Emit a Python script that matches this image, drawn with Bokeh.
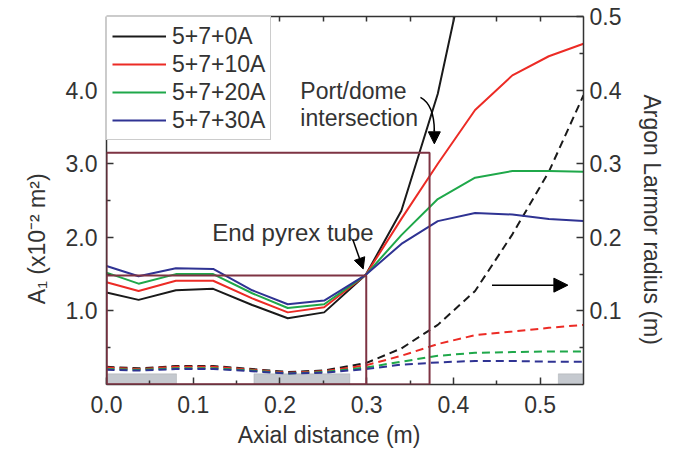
from bokeh.plotting import figure
from bokeh.embed import file_html
from bokeh.resources import INLINE
from bokeh.models import (Range1d, LinearAxis, FixedTicker, BoxAnnotation, Arrow,
                          NormalHead, PrintfTickFormatter)
from bokeh.core.properties import value

# ---------------- data ----------------
x_pos = [0.0, 0.037, 0.08, 0.123, 0.168, 0.209, 0.251, 0.299, 0.34, 0.382, 0.425, 0.468, 0.51, 0.55]

a1_0A = [1.25, 1.15, 1.28, 1.30, 1.08, 0.90, 0.98, 1.49, 2.36, 3.95, 6.3, 8.5, 10.5, 12.5]
a1_10A = [1.39, 1.27, 1.41, 1.41, 1.17, 0.98, 1.05, 1.49, 2.25, 3.00, 3.73, 4.20, 4.46, 4.63]
a1_20A = [1.52, 1.37, 1.50, 1.50, 1.24, 1.04, 1.09, 1.49, 2.03, 2.52, 2.81, 2.90, 2.90, 2.89]
a1_30A = [1.61, 1.47, 1.58, 1.57, 1.28, 1.09, 1.14, 1.49, 1.91, 2.22, 2.33, 2.31, 2.25, 2.22]

rl_0A = [0.024, 0.022, 0.025, 0.025, 0.021, 0.017, 0.019, 0.029, 0.049, 0.081, 0.127, 0.204, 0.289, 0.393]
rl_10A = [0.023, 0.021, 0.024, 0.024, 0.020, 0.016, 0.018, 0.026, 0.039, 0.055, 0.067, 0.072, 0.077, 0.081]
rl_20A = [0.021, 0.020, 0.022, 0.022, 0.019, 0.015, 0.017, 0.023, 0.031, 0.039, 0.043, 0.044, 0.045, 0.045]
rl_30A = [0.020, 0.019, 0.021, 0.021, 0.018, 0.015, 0.016, 0.021, 0.027, 0.030, 0.032, 0.032, 0.031, 0.031]

series_labels = ["5+7+0A", "5+7+10A", "5+7+20A", "5+7+30A"]
series_colors = ["#1a1a1a", "#ec2b25", "#1fa84a", "#2f3393"]

# magnet / coil blocks on the axis (x extents, height in A1 units)
coil_left = [-0.0165, 0.170, 0.521]
coil_right = [0.0807, 0.2806, 0.593]
coil_top = 0.145

x_ticks = [0.0, 0.1, 0.2, 0.3, 0.4, 0.5]
x_minor = [0.05, 0.15, 0.25, 0.35, 0.45]
y_ticks = [1.0, 2.0, 3.0, 4.0]
y_minor = [0.5, 1.5, 2.5, 3.5, 4.5]
r_ticks = [0.1, 0.2, 0.3, 0.4, 0.5]
r_minor = [0.05, 0.15, 0.25, 0.35, 0.45]
top_ticks = [0.05, 0.1, 0.15, 0.2, 0.25, 0.3, 0.35, 0.4, 0.45, 0.5]

FONT = "Liberation Sans"
AX = "#333333"
MAROON = "#7e3343"
NB = "\u00a0"
FS = "23px"

p = figure(frame_width=477, frame_height=368,
           min_border_left=106, min_border_right=84, min_border_top=16, min_border_bottom=63,
           x_range=Range1d(0, 0.55), y_range=Range1d(0, 5.0),
           output_backend="svg", toolbar_location=None)
p.extra_y_ranges = {"r": Range1d(0, 0.5)}
p.grid.visible = False
p.outline_line_color = None
p.background_fill_color = "white"
p.border_fill_color = "white"


def style_axis(ax, label_size=FS):
    ax.axis_line_color = AX
    ax.axis_line_width = 1.5
    ax.major_tick_line_color = AX
    ax.minor_tick_line_color = AX
    ax.major_tick_line_width = 1.5
    ax.minor_tick_line_width = 1.5
    ax.major_tick_in = 7
    ax.major_tick_out = 0
    ax.minor_tick_in = 4
    ax.minor_tick_out = 0
    ax.major_label_text_font = FONT
    ax.major_label_text_font_size = label_size
    ax.major_label_text_color = "#333333"
    ax.axis_label_text_font = FONT
    ax.axis_label_text_font_size = FS
    ax.axis_label_text_font_style = "normal"
    ax.axis_label_text_color = "#333333"


xa = p.xaxis[0]
style_axis(xa)
xa.ticker = FixedTicker(ticks=x_ticks, minor_ticks=x_minor)
xa.formatter = PrintfTickFormatter(format="%.1f")
xa.axis_label = "Axial distance (m)" + NB * 5
xa.major_label_standoff = 11
xa.axis_label_standoff = 6

ya = p.yaxis[0]
style_axis(ya)
ya.ticker = FixedTicker(ticks=y_ticks, minor_ticks=y_minor)
ya.formatter = PrintfTickFormatter(format="%.1f")
ya.axis_label = "A\u2081 (x10\u207b\u00b2 m\u00b2)" + NB * 12
ya.major_label_standoff = 9
ya.axis_label_standoff = 13

ra = LinearAxis(y_range_name="r")
style_axis(ra)
ra.ticker = FixedTicker(ticks=r_ticks, minor_ticks=r_minor)
ra.formatter = PrintfTickFormatter(format="%.1f")
ra.axis_label = NB * 6 + "Argon Larmor radius (m)"
ra.major_label_standoff = 6
ra.axis_label_standoff = 15
p.add_layout(ra, "right")

ta = LinearAxis()
style_axis(ta, label_size="0px")
ta.ticker = FixedTicker(ticks=top_ticks, minor_ticks=[])
ta.major_tick_in = 5
ta.major_label_standoff = 0
p.add_layout(ta, "above")

# coil blocks
for l, r in zip(coil_left, coil_right):
    p.add_layout(BoxAnnotation(left=l, right=r, bottom=0, top=coil_top,
                               fill_color="#c5c9cf", fill_alpha=1.0,
                               line_color="#8a8d92", line_width=1, level="underlay"))

# dashed Larmor radius curves (right axis)
for ys, c in zip([rl_0A, rl_10A, rl_20A, rl_30A], series_colors):
    p.line(x_pos, ys, y_range_name="r", line_color=c, line_width=2, line_dash="8 5")

# solid A1 curves
for ys, c, lab in zip([a1_0A, a1_10A, a1_20A, a1_30A], series_colors, series_labels):
    p.line(x_pos, ys, line_color=c, line_width=2, legend_label=lab)

# maroon boxes
p.add_layout(BoxAnnotation(left=0, right=0.3725, bottom=0, top=3.15, fill_alpha=0,
                           line_color=MAROON, line_width=2, line_alpha=1))
p.add_layout(BoxAnnotation(left=0, right=0.2995, bottom=0, top=1.48, fill_alpha=0,
                           line_color=MAROON, line_width=2, line_alpha=1))

# annotations
p.text(x=[0.2235, 0.2235], y=[3.99, 3.62], text=["Port/dome", "intersection"],
       text_font=value(FONT), text_font_size=FS, text_color="#333333",
       text_baseline="alphabetic", text_align="left")
p.text(x=[0.1219], y=[2.07], text=["End pyrex tube"],
       text_font=value(FONT), text_font_size="24px", text_color="#333333",
       text_baseline="alphabetic", text_align="left")

p.bezier(x0=[0.362], y0=[3.90], x1=[0.378], y1=[3.44],
         cx0=[0.373], cy0=[3.83], cx1=[0.378], cy1=[3.68],
         line_color="black", line_width=1.5)
p.add_layout(Arrow(end=NormalHead(size=12, fill_color="black", line_color="black"),
                   x_start=0.378, y_start=3.46, x_end=0.378, y_end=3.27,
                   line_color="black", line_width=1.5))
p.add_layout(Arrow(end=NormalHead(size=11, fill_color="black", line_color="black"),
                   x_start=0.284, y_start=1.97, x_end=0.296, y_end=1.57,
                   line_color="black", line_width=1.5))
p.add_layout(Arrow(end=NormalHead(size=14, fill_color="black", line_color="black"),
                   x_start=0.4445, y_start=1.35, x_end=0.532, y_end=1.35,
                   line_color="black", line_width=1.5))

# legend
lg = p.legend[0]
lg.location = "top_left"
lg.margin = 0
lg.padding = 5
lg.spacing = 0
lg.label_height = 28
lg.glyph_height = 28
lg.glyph_width = 54
lg.label_standoff = 6
lg.label_text_font = FONT
lg.label_text_font_size = FS
lg.label_text_color = "#333333"
lg.border_line_color = "#999999"
lg.border_line_width = 1.5
lg.background_fill_alpha = 1.0

open("out.html", "w").write(file_html(p, INLINE))
